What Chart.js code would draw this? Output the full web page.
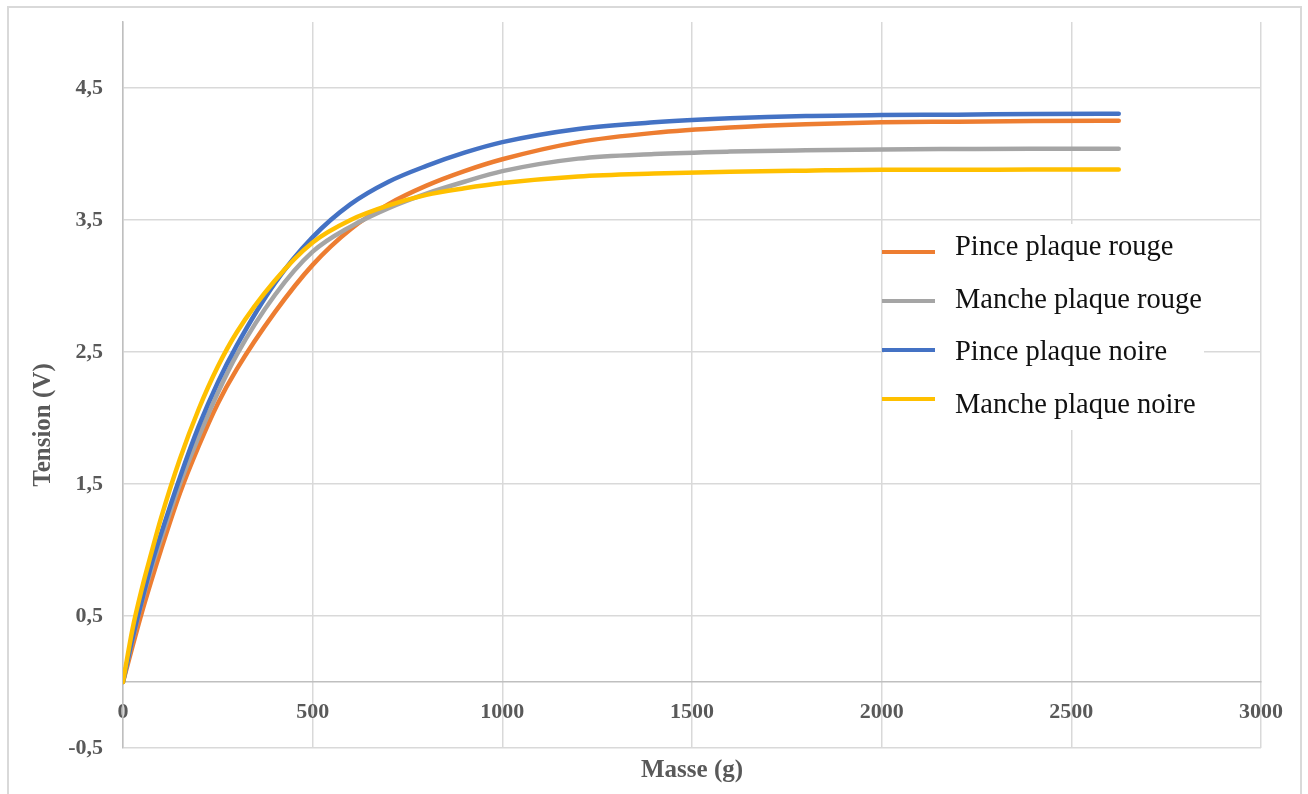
<!DOCTYPE html>
<html>
<head>
<meta charset="utf-8">
<script src="https://cdn.jsdelivr.net/npm/chart.js@4.4.1/dist/chart.umd.min.js"></script>
<style>
  html, body { margin: 0; padding: 0; background: #fff; }
  .wrap { position: relative; width: 1308px; height: 794px; overflow: hidden; }
  .frame { position: absolute; left: 7px; top: 6px; width: 1291px; height: 820px; border: 2px solid #d9d9d9; }
  canvas { position: absolute; left: 0; top: 0; }
</style>
</head>
<body>
<div class="wrap">
  <div class="frame"></div>
  <canvas id="chart" width="1308" height="794"></canvas>
</div>
<script>
// Masse (g) et tensions (V)
const masse = [0, 25, 50, 75, 100, 150, 200, 250, 300, 400, 500, 600, 700, 800, 900, 1000, 1200, 1400, 1600, 1800, 2000, 2200, 2400, 2625];
const pincePlaqueRouge = [0, 0.27, 0.53, 0.77, 1.0, 1.43, 1.79, 2.11, 2.37, 2.80, 3.16, 3.43, 3.62, 3.76, 3.87, 3.96, 4.09, 4.16, 4.20, 4.225, 4.24, 4.245, 4.25, 4.252];
const manchePlaqueRouge = [0, 0.32, 0.61, 0.86, 1.08, 1.50, 1.86, 2.19, 2.48, 2.93, 3.26, 3.45, 3.59, 3.70, 3.79, 3.87, 3.965, 4.00, 4.018, 4.028, 4.035, 4.038, 4.04, 4.04];
const pincePlaqueNoire = [0, 0.33, 0.62, 0.89, 1.12, 1.55, 1.94, 2.27, 2.55, 3.02, 3.37, 3.62, 3.79, 3.91, 4.01, 4.09, 4.19, 4.24, 4.27, 4.288, 4.295, 4.298, 4.303, 4.305];
const manchePlaqueNoire = [0, 0.40, 0.71, 0.98, 1.24, 1.69, 2.07, 2.39, 2.65, 3.04, 3.33, 3.50, 3.61, 3.69, 3.74, 3.78, 3.83, 3.852, 3.866, 3.874, 3.88, 3.88, 3.882, 3.882];

const seriesLabels = ['Pince plaque rouge', 'Manche plaque rouge', 'Pince plaque noire', 'Manche plaque noire'];
const seriesColors = ['#ED7D31', '#A5A5A5', '#4472C4', '#FFC000'];
const yTicks = [-0.5, 0.5, 1.5, 2.5, 3.5, 4.5];

const serif = "'Liberation Serif', 'Times New Roman', serif";
const axisGrey = '#595959';

function toPoints(values) {
    return masse.map((m, i) => ({ x: m, y: values[i] }));
}

const allSeries = [pincePlaqueRouge, manchePlaqueRouge, pincePlaqueNoire, manchePlaqueNoire];

// legende dessinee dans la zone du graphe, comme dans Excel
const insideLegend = {
    id: 'insideLegend',
    beforeDatasetsDraw(chart) {
        const ctx = chart.ctx;
        ctx.save();
        ctx.fillStyle = '#ffffff';
        ctx.fillRect(884, 224, 320, 206);
        chart.data.datasets.forEach((ds, i) => {
            const lineY = 252 + i * 49;
            ctx.strokeStyle = ds.borderColor;
            ctx.lineWidth = 4;
            ctx.beginPath();
            ctx.moveTo(882, lineY);
            ctx.lineTo(935, lineY);
            ctx.stroke();
            ctx.fillStyle = '#111111';
            ctx.font = '28.5px ' + serif;
            ctx.textBaseline = 'alphabetic';
            ctx.textAlign = 'left';
            ctx.fillText(ds.label, 955, 255 + i * 52.6);
        });
        ctx.restore();
    },
};

// titre de l'axe vertical, un peu plus bas que le centre
const yAxisTitle = {
    id: 'yAxisTitle',
    afterDraw(chart) {
        const ctx = chart.ctx;
        ctx.save();
        ctx.translate(44, 425);
        ctx.rotate(-Math.PI / 2);
        ctx.fillStyle = axisGrey;
        ctx.font = 'bold 25px ' + serif;
        ctx.textAlign = 'center';
        ctx.textBaseline = 'middle';
        ctx.fillText('Tension (V)', 0, 0);
        ctx.restore();
    },
};

new Chart(document.getElementById('chart'), {
    type: 'line',
    data: {
        datasets: allSeries.map((values, i) => ({
            label: seriesLabels[i],
            data: toPoints(values),
            borderColor: seriesColors[i],
            backgroundColor: seriesColors[i],
            borderWidth: 4.5,
            borderCapStyle: 'round',
            pointRadius: 0,
            cubicInterpolationMode: 'monotone',
            fill: false,
            order: 4 - i,
        })),
    },
    options: {
        responsive: false,
        animation: false,
        devicePixelRatio: 1,
        layout: {
            padding: { left: 0, right: 47, top: 22, bottom: 0 },
        },
        plugins: {
            legend: { display: false },
            tooltip: { enabled: false },
            title: {
                display: true,
                position: 'bottom',
                fullSize: false,
                text: 'Masse (g)',
                color: axisGrey,
                font: { family: serif, size: 25, weight: 'bold' },
                padding: { top: 8, bottom: 8 },
            },
        },
        scales: {
            x: {
                type: 'linear',
                min: 0,
                max: 3000,
                position: { y: 0 },
                grid: { color: '#d9d9d9', lineWidth: 1.5, drawTicks: false },
                border: { color: '#bfbfbf', width: 1.5 },
                ticks: {
                    stepSize: 500,
                    padding: 17,
                    maxRotation: 0,
                    autoSkip: false,
                    color: axisGrey,
                    font: { family: serif, size: 22, weight: 'bold' },
                    callback: (v) => String(v),
                },
            },
            y: {
                type: 'linear',
                min: -0.5,
                max: 5,
                afterBuildTicks: (scale) => {
                    scale.ticks = yTicks.map((v) => ({ value: v }));
                },
                afterFit: (scale) => {
                    scale.width = 123;
                    scale.paddingTop = 0;
                    scale.paddingBottom = 0;
                },
                grid: { color: '#d9d9d9', lineWidth: 1.5, drawTicks: false },
                border: { color: '#bfbfbf', width: 1.5 },
                ticks: {
                    padding: 20,
                    color: axisGrey,
                    font: { family: serif, size: 22, weight: 'bold' },
                    callback: (v) => String(v).replace('.', ','),
                },
            },
        },
    },
    plugins: [insideLegend, yAxisTitle],
});
</script>
</body>
</html>
